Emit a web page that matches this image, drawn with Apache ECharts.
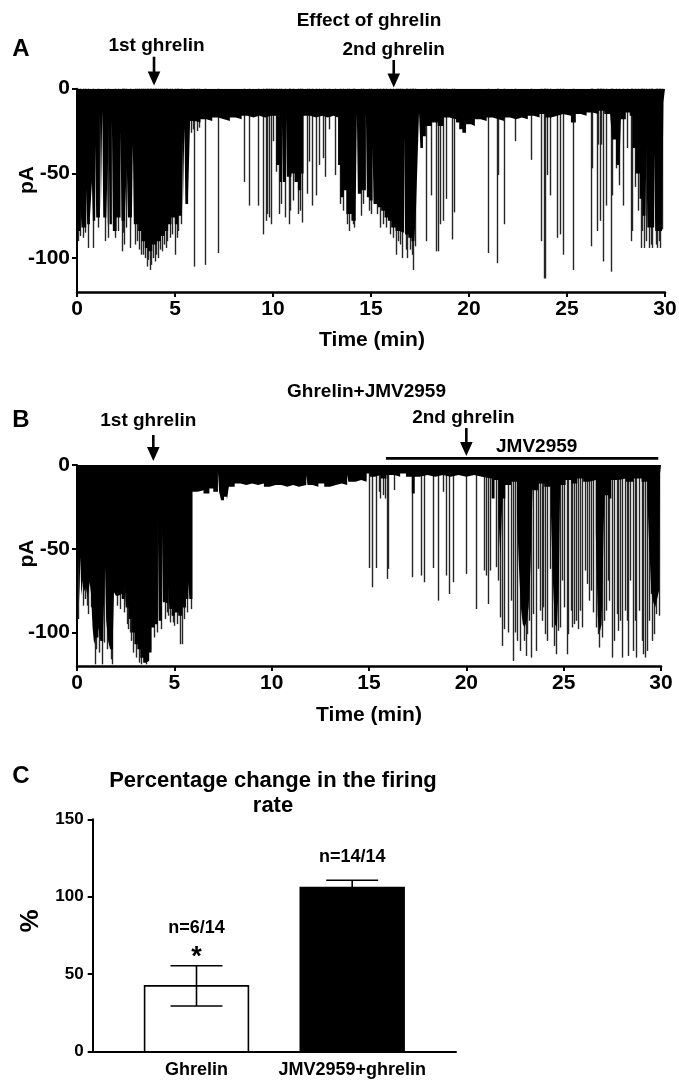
<!DOCTYPE html>
<html><head><meta charset="utf-8">
<script src="https://cdn.jsdelivr.net/npm/echarts@6/dist/echarts.min.js"></script>
<style>html,body{margin:0;padding:0;background:#fff}#c{width:679px;height:1080px}</style>
</head><body><div id="c"></div>
<script>
// ---------- DATA ----------
const timeTicks = [0, 5, 10, 15, 20, 25, 30];
const currentTicks = [-100, -50, 0];

// Panel A: dense trace envelope (time min, pA) and isolated events
const envA = [[0,-86],[0.07,-84],[0.18,-70],[0.23,-82],[0.47,-59],[0.52,-80],[0.66,-76],[0.76,-55],[0.81,-78],[0.93,-33],[0.98,-76],[1.17,-14],[1.22,-72],[1.29,-13],[1.34,-76],[1.49,-59],[1.54,-82],[1.61,-17],[1.66,-80],[1.78,-18],[1.83,-84],[2.02,-76],[2.22,-25],[2.27,-78],[2.45,-72],[2.54,-45],[2.6,-76],[2.79,-86],[2.85,-33],[2.9,-80],[3.12,-84],[3.29,-90],[3.46,-94],[3.63,-96],[3.84,-92],[4.06,-90],[4.28,-87],[4.48,-84],[4.65,-80],[4.82,-76],[4.99,-80],[5.16,-75],[5.35,-23],[5.4,-72],[5.48,-23],[5.53,-68],[5.67,-63],[5.77,-19],[6.0,-20],[6.3,-18],[6.6,-19],[6.9,-17],[7.2,-18],[7.5,-19],[7.8,-17],[8.1,-18],[8.4,-16],[8.7,-17],[9.0,-16],[9.3,-17],[9.6,-16],[9.9,-16],[10.17,-45],[10.34,-55],[10.45,-14],[10.5,-55],[10.66,-14],[10.71,-52],[10.94,-50],[11.1,-55],[11.27,-60],[11.44,-50],[11.56,-16],[11.9,-17],[12.2,-16],[12.5,-17],[12.8,-16],[13.1,-17],[13.32,-45],[13.44,-64],[13.61,-60],[13.74,-74],[14.0,-78],[14.22,-70],[14.28,-15],[14.33,-62],[14.5,-60],[14.74,-14],[14.79,-64],[14.92,-66],[15.08,-34],[15.13,-68],[15.35,-70],[15.52,-72],[15.69,-76],[15.86,-78],[16.03,-82],[16.25,-84],[16.45,-85],[16.69,-28],[16.74,-86],[16.9,-88],[17.06,-90],[17.22,-88],[17.3,-70],[17.38,-40],[17.45,-14],[17.52,-35],[17.65,-28],[17.8,-22],[18.1,-20],[18.4,-22],[18.7,-17],[19.0,-18],[19.34,-20],[19.5,-24],[19.66,-26],[19.85,-21],[20.1,-22],[20.3,-18],[20.6,-19],[20.9,-17],[21.2,-18],[21.5,-19],[21.8,-17],[22.1,-18],[22.4,-17],[22.7,-18],[23.0,-16],[23.3,-17],[23.6,-15],[23.9,-17],[24.2,-16],[24.5,-15],[24.8,-16],[25.2,-20],[25.45,-15],[25.7,-16],[26.0,-14],[26.3,-15],[26.6,-13],[26.9,-15],[27.2,-14],[27.3,-30],[27.5,-45],[27.65,-55],[27.75,-18],[28.0,-14],[28.2,-16],[28.34,-35],[28.5,-50],[28.7,-65],[28.85,-75],[29.0,-80],[29.05,-33],[29.1,-82],[29.3,-82],[29.45,-37],[29.5,-84],[29.7,-84],[29.85,-80],[29.92,-8],[30,-8]];
const spikesA = [[0.05,-90],[0.15,-87],[0.3,-88],[0.4,-85],[0.58,-94],[0.83,-94],[1.05,-82],[1.43,-90],[1.6,-88],[1.94,-88],[2.1,-84],[2.28,-96],[2.35,-85],[2.41,-92],[2.5,-82],[2.7,-94],[2.95,-92],[3.04,-90],[3.15,-95],[3.25,-98],[3.38,-98],[3.45,-100],[3.55,-105],[3.62,-101],[3.72,-107],[3.8,-104],[3.89,-100],[3.97,-102],[4.05,-98],[4.14,-100],[4.22,-95],[4.35,-96],[4.42,-92],[4.52,-94],[4.6,-90],[4.74,-88],[4.85,-86],[4.99,-98],[5.08,-88],[5.16,-84],[5.3,-80],[5.82,-26],[5.9,-24],[5.98,-105],[6.1,-25],[6.22,-23],[6.52,-104],[7.2,-97],[8.5,-55],[8.76,-69],[9.24,-69],[9.5,-86],[9.62,-78],[9.7,-74],[9.78,-76],[9.88,-80],[10.0,-31],[10.14,-49],[10.29,-74],[10.42,-68],[10.6,-76],[10.8,-80],[10.89,-72],[11.02,-66],[11.27,-74],[11.36,-72],[11.48,-79],[11.73,-62],[11.83,-43],[12.0,-69],[12.2,-63],[12.37,-45],[12.55,-41],[12.65,-52],[12.85,-24],[13.18,-51],[13.4,-68],[13.55,-72],[13.8,-80],[13.9,-84],[14.1,-80],[14.15,-82],[14.5,-75],[14.6,-68],[14.9,-72],[15.0,-74],[15.3,-74],[15.44,-82],[15.6,-80],[15.75,-82],[15.95,-86],[16.1,-88],[16.25,-98],[16.4,-90],[16.5,-92],[16.59,-100],[16.8,-95],[16.85,-100],[17.0,-95],[17.1,-98],[17.15,-107],[17.25,-93],[17.8,-90],[18.07,-63],[18.3,-96],[18.41,-96],[18.53,-80],[18.67,-78],[18.83,-65],[19.14,-89],[19.26,-73],[20.95,-97],[21.41,-103],[21.46,-51],[21.8,-80],[22.36,-31],[23.16,-42],[23.67,-90],[23.84,-112],[23.86,-112],[23.98,-51],[24.15,-63],[24.49,-88],[24.66,-86],[24.79,-98],[25.29,-107],[26.22,-93],[26.3,-47],[26.53,-84],[26.59,-33],[26.69,-78],[26.76,-33],[26.86,-102],[26.98,-69],[27.23,-108],[27.32,-63],[27.49,-47],[27.66,-57],[27.88,-69],[28.08,-35],[28.25,-90],[28.34,-84],[28.45,-58],[28.6,-72],[28.77,-94],[28.85,-84],[28.94,-94],[29.03,-90],[29.19,-94],[29.27,-92],[29.36,-94],[29.55,-92],[29.61,-94],[29.7,-90],[29.75,-94],[29.86,-83]];

// Panel B
const envB = [[0,-87],[0.07,-52],[0.12,-82],[0.17,-55],[0.22,-78],[0.3,-69],[0.35,-76],[0.45,-73],[0.55,-79],[0.65,-70],[0.72,-77],[0.8,-97],[0.88,-107],[0.97,-103],[1.1,-97],[1.2,-105],[1.35,-98],[1.44,-61],[1.5,-93],[1.6,-105],[1.7,-110],[1.85,-100],[1.9,-76],[2.0,-78],[2.12,-77],[2.3,-80],[2.45,-71],[2.5,-85],[2.65,-92],[2.8,-100],[2.95,-107],[3.1,-110],[3.25,-115],[3.4,-118],[3.55,-117],[3.7,-112],[3.83,-97],[4.0,-95],[4.15,-31],[4.2,-93],[4.36,-35],[4.41,-82],[4.55,-83],[4.69,-70],[4.74,-86],[4.86,-90],[5.03,-88],[5.2,-90],[5.4,-85],[5.6,-80],[5.72,-70],[5.77,-80],[5.93,-16],[6.2,-15],[6.5,-17],[6.8,-14],[7.0,-16],[7.24,-4],[7.3,-16],[7.4,-21],[7.55,-19],[7.7,-21],[7.8,-13],[8.1,-11],[8.4,-12],[8.7,-11],[9.0,-12],[9.3,-11],[9.6,-13],[9.9,-12],[10.2,-12],[10.5,-13],[10.8,-12],[11.1,-13],[11.4,-12],[11.78,-6],[11.84,-12],[12.1,-13],[12.4,-11],[12.7,-13],[13.0,-12],[13.3,-11],[13.6,-12],[13.88,-6],[13.94,-10],[14.3,-9],[14.6,-10],[14.88,-5],[15.05,-7],[15.3,-6],[15.6,-8],[15.9,-6],[16.3,-7],[16.6,-5],[16.9,-7],[17.2,-17],[17.35,-7],[17.6,-6],[18.0,-7],[18.4,-6],[18.8,-7],[19.2,-6],[19.6,-7],[20.0,-6],[20.4,-7],[20.8,-8],[21.3,-20],[21.45,-9],[21.65,-30],[21.75,-55],[21.85,-20],[22.0,-12],[22.3,-10],[22.6,-30],[22.7,-60],[22.8,-85],[22.9,-95],[23.0,-97],[23.1,-93],[23.2,-85],[23.3,-60],[23.4,-15],[23.7,-11],[24.0,-13],[24.35,-30],[24.45,-70],[24.55,-95],[24.65,-97],[24.75,-70],[24.82,-12],[25.1,-9],[25.4,-11],[25.7,-8],[26.0,-10],[26.3,-9],[26.65,-40],[26.75,-90],[26.85,-100],[26.95,-95],[27.05,-40],[27.1,-18],[27.3,-20],[27.45,-9],[27.8,-8],[28.2,-10],[28.6,-8],[29.0,-10],[29.3,-20],[29.4,-50],[29.5,-75],[29.6,-82],[29.7,-85],[29.8,-80],[29.9,-75],[29.95,-5],[30,-5]];
const spikesB = [[0.05,-92],[0.3,-84],[0.4,-80],[0.5,-84],[0.58,-89],[0.7,-85],[0.95,-119],[1.0,-110],[1.15,-112],[1.3,-119],[1.4,-106],[1.55,-110],[1.75,-116],[1.82,-119],[2.05,-84],[2.2,-86],[2.4,-88],[2.55,-95],[2.6,-98],[2.7,-100],[2.75,-105],[2.9,-112],[3.05,-115],[3.2,-118],[3.3,-119],[3.55,-119],[3.65,-117],[3.75,-110],[3.95,-103],[4.1,-100],[4.3,-98],[4.5,-92],[4.6,-88],[4.7,-90],[4.8,-94],[4.95,-94],[5.0,-96],[5.15,-95],[5.3,-107],[5.4,-107],[5.5,-92],[5.65,-88],[5.85,-86],[15.01,-61.5],[15.17,-73],[15.35,-61.5],[15.49,-16],[15.59,-20],[15.7,-18],[15.8,-20],[15.9,-68],[15.99,-62],[16.28,-15],[17.19,-67],[17.65,-66],[17.82,-70],[18.3,-61.5],[18.56,-81],[18.82,-16],[18.98,-66],[19.1,-77],[19.29,-70],[19.98,-65],[20.49,-86],[20.9,-63],[20.99,-66],[21.09,-83],[21.21,-63],[21.5,-61],[21.64,-69],[21.72,-91],[21.81,-108],[21.93,-98],[22.15,-100],[22.32,-81],[22.41,-117],[22.5,-100],[22.58,-105],[22.75,-111],[22.96,-105],[23.04,-114],[23.13,-101],[23.22,-93],[23.3,-115],[23.44,-89],[23.56,-111],[23.69,-62],[23.78,-87],[23.87,-93],[23.95,-85],[24.04,-101],[24.12,-105],[24.3,-62],[24.41,-97],[24.52,-108],[24.59,-113],[24.69,-99],[24.81,-97],[24.89,-69],[25.01,-85],[25.15,-113],[25.24,-101],[25.37,-87],[25.44,-97],[25.54,-95],[25.63,-93],[25.75,-98],[25.84,-87],[25.95,-97],[26.09,-63],[26.18,-71],[26.3,-81],[26.4,-75],[26.52,-88],[26.64,-97],[26.74,-101],[26.84,-109],[26.95,-103],[27.05,-93],[27.17,-87],[27.26,-69],[27.32,-81],[27.46,-115],[27.58,-105],[27.72,-89],[27.8,-99],[27.89,-93],[28.01,-115],[28.14,-87],[28.23,-93],[28.31,-114],[28.43,-69],[28.54,-111],[28.66,-93],[28.74,-115],[28.86,-87],[29.0,-105],[29.08,-113],[29.17,-115],[29.26,-111],[29.38,-93],[29.48,-77],[29.55,-105],[29.64,-101],[29.72,-89],[29.89,-90]];

// Panel C
const cCategories = ['Ghrelin', 'JMV2959+ghrelin'];
const cMeans = [42.5, 106];
const cSem = [13, 4.7];
const cNotes = ['n=6/14', 'n=14/14'];
const cStars = ['*', ''];
const cTicks = [0, 50, 100, 150];

// annotations
const eventsA = [{label: '1st ghrelin', t: 3.93}, {label: '2nd ghrelin', t: 16.16}];
const eventsB = [{label: '1st ghrelin', t: 3.92}, {label: '2nd ghrelin', t: 20.0}];
const drugB = {label: 'JMV2959', start: 15.87, end: 29.86};

// ---------- LAYOUT ----------
const F = '"Liberation Sans", Arial, Helvetica, sans-serif';
const cBarPos = [2, 5];           // positions of the two bars on a 0..7 axis
const cFill = ['#ffffff', '#000000'];
const cNoteVal = [80, 125.5];
const cStarVal = [64, null];

const chart = echarts.init(document.getElementById('c'), null, {renderer: 'canvas'});

function traceXAxis(gi) {
  return {gridIndex: gi, type: 'value', min: 0, max: 30, interval: 5,
    axisLine: {show: true, onZero: false, lineStyle: {color: '#000', width: 2.5}},
    axisTick: {show: true, length: 5, lineStyle: {color: '#000', width: 2}},
    axisLabel: {color: '#000', fontSize: 21, fontWeight: 'bold', fontFamily: F, margin: 7},
    splitLine: {show: false}};
}
function traceYAxis(gi) {
  return {gridIndex: gi, type: 'value', min: -120, max: 0,
    axisLine: {show: true, onZero: false, lineStyle: {color: '#000', width: 2}},
    axisTick: {show: true, length: 5, customValues: currentTicks, lineStyle: {color: '#000', width: 2}},
    axisLabel: {color: '#000', fontSize: 21, fontWeight: 'bold', fontFamily: F, margin: 7, customValues: currentTicks},
    splitLine: {show: false}};
}
function envSeries(data, xi) {
  return {type: 'line', xAxisIndex: xi, yAxisIndex: xi, data: data, step: 'end',
    showSymbol: false, symbol: 'none', silent: true, z: 3,
    lineStyle: {width: 0, opacity: 0}, areaStyle: {color: '#000', opacity: 1, origin: 'end'},
    animation: false};
}
function spikeSeries(data, xi) {
  return {type: 'custom', xAxisIndex: xi, yAxisIndex: xi, data: data, z: 2, silent: true,
    encode: {x: 0, y: 1}, animation: false,
    renderItem: function (params, api) {
      const p0 = api.coord([api.value(0), 0]);
      const p1 = api.coord([api.value(0), api.value(1)]);
      const x = Math.round(p0[0]) + 0.5;
      return {type: 'line', shape: {x1: x, y1: p0[1], x2: x, y2: p1[1]},
        style: {stroke: '#262626', lineWidth: 1.4}};
    }};
}

const barData = cMeans.map((m, i) => [cBarPos[i], m, cSem[i], i]);

chart.setOption({
  animation: false,
  grid: [
    {left: 77, right: 14, top: 88.7, height: 203.3, outerBoundsMode: 'none'},
    {left: 77, right: 18, top: 465, height: 201, outerBoundsMode: 'none'},
    {left: 92.7, right: 223, top: 819.3, height: 232.4, outerBoundsMode: 'none'}
  ],
  xAxis: [traceXAxis(0), traceXAxis(1),
    {gridIndex: 2, type: 'value', min: 0, max: 7, interval: 1,
      axisLine: {show: true, onZero: false, lineStyle: {color: '#000', width: 2}},
      axisTick: {show: false},
      axisLabel: {color: '#000', fontSize: 18, fontWeight: 'bold', fontFamily: F, margin: 9,
        formatter: function (v) { const i = cBarPos.indexOf(v); return i >= 0 ? cCategories[i] : ''; }},
      splitLine: {show: false}}],
  yAxis: [traceYAxis(0), traceYAxis(1),
    {gridIndex: 2, type: 'value', min: 0, max: 150, interval: 50,
      axisLine: {show: true, lineStyle: {color: '#000', width: 2}},
      axisTick: {show: true, length: 5, lineStyle: {color: '#000', width: 2}},
      axisLabel: {color: '#000', fontSize: 17, fontWeight: 'bold', fontFamily: F, margin: 9},
      splitLine: {show: false}}],
  series: [
    spikeSeries(spikesA, 0), envSeries(envA, 0),
    spikeSeries(spikesB, 1), envSeries(envB, 1),
    {type: 'custom', xAxisIndex: 2, yAxisIndex: 2, data: barData, encode: {x: 0, y: 1}, silent: true, z: 3,
      renderItem: function (params, api) {
        const pos = api.value(0), m = api.value(1), s = api.value(2), idx = api.value(3);
        const a = api.coord([pos - 1, m]);
        const b = api.coord([pos + 1, 0]);
        const top = api.coord([pos, m + s]);
        const bot = api.coord([pos, m - s]);
        const cl = api.coord([pos - 0.5, 0])[0], cr = api.coord([pos + 0.5, 0])[0];
        const es = {stroke: '#000', lineWidth: 1.6};
        return {type: 'group', children: [
          {type: 'rect', shape: {x: a[0], y: a[1], width: b[0] - a[0], height: b[1] - a[1]},
            style: {fill: cFill[idx], stroke: '#000', lineWidth: 1.6}},
          {type: 'line', shape: {x1: top[0], y1: top[1], x2: bot[0], y2: bot[1]}, style: es},
          {type: 'line', shape: {x1: cl, y1: top[1], x2: cr, y2: top[1]}, style: es},
          {type: 'line', shape: {x1: cl, y1: bot[1], x2: cr, y2: bot[1]}, style: es}
        ]};
      }}
  ]
});

// ---------- ANNOTATIONS ----------
function txt(x, y, text, size, extra) {
  return Object.assign({type: 'text', x: x, y: y, silent: true, z: 10,
    style: {text: text, fill: '#000', fontSize: size, fontWeight: 'bold', fontFamily: F,
      align: 'center', verticalAlign: 'middle'}}, extra || {});
}
function arrow(x, y0, y1) {
  return [
    {type: 'line', silent: true, z: 10, shape: {x1: x, y1: y0, x2: x, y2: y1 - 12},
      style: {stroke: '#000', lineWidth: 2.6}},
    {type: 'polygon', silent: true, z: 10, shape: {points: [[x - 6.3, y1 - 14], [x + 6.3, y1 - 14], [x, y1]]},
      style: {fill: '#000'}}
  ];
}
const g = [];
const px = (gi, t, v) => chart.convertToPixel({gridIndex: gi}, [t, v]);

// Panel A
g.push(txt(21, 49, 'A', 24));
g.push(txt(369, 21, 'Effect of ghrelin', 19));
const a1 = px(0, eventsA[0].t, 0)[0], a2 = px(0, eventsA[1].t, 0)[0];
g.push(txt(a1 + 2.5, 46, eventsA[0].label, 19));
g.push(...arrow(a1, 56.7, 85.5));
g.push(txt(a2, 50, eventsA[1].label, 19));
g.push(...arrow(a2, 60, 87.5));
g.push(txt(372, 340, 'Time (min)', 21));
g.push(txt(27, 180, 'pA', 21, {rotation: Math.PI / 2}));

// Panel B
g.push(txt(21, 420, 'B', 24));
g.push(txt(366.5, 392, 'Ghrelin+JMV2959', 19));
const b1 = px(1, eventsB[0].t, 0)[0], b2 = px(1, eventsB[1].t, 0)[0];
g.push(txt(b1 - 5, 421, eventsB[0].label, 19));
g.push(...arrow(b1, 435, 461));
g.push(txt(b2 - 3, 418, eventsB[1].label, 19));
g.push(...arrow(b2, 428, 456));
const d0 = px(1, drugB.start, 0), d1 = px(1, drugB.end, 0);
g.push({type: 'line', silent: true, z: 10, shape: {x1: d0[0], y1: d0[1] - 6.7, x2: d1[0], y2: d0[1] - 6.7},
  style: {stroke: '#000', lineWidth: 2.8}});
g.push(txt(536.7, 446.5, drugB.label, 19));
g.push(txt(369, 715, 'Time (min)', 21));
g.push(txt(27.5, 553.5, 'pA', 21, {rotation: Math.PI / 2}));

// Panel C
g.push(txt(21, 776, 'C', 24));
g.push(txt(273, 781, 'Percentage change in the firing', 22));
g.push(txt(273, 806, 'rate', 22));
g.push(txt(31, 921, '%', 26, {rotation: Math.PI / 2}));
cNotes.forEach((n, i) => {
  const p = px(2, cBarPos[i], cNoteVal[i]);
  g.push(txt(p[0], p[1], n, 18));
  if (cStars[i]) {
    const q = px(2, cBarPos[i], cStarVal[i]);
    g.push(txt(q[0], q[1] + 5, cStars[i], 27));
  }
});

chart.setOption({graphic: g});
</script>
</body></html>
